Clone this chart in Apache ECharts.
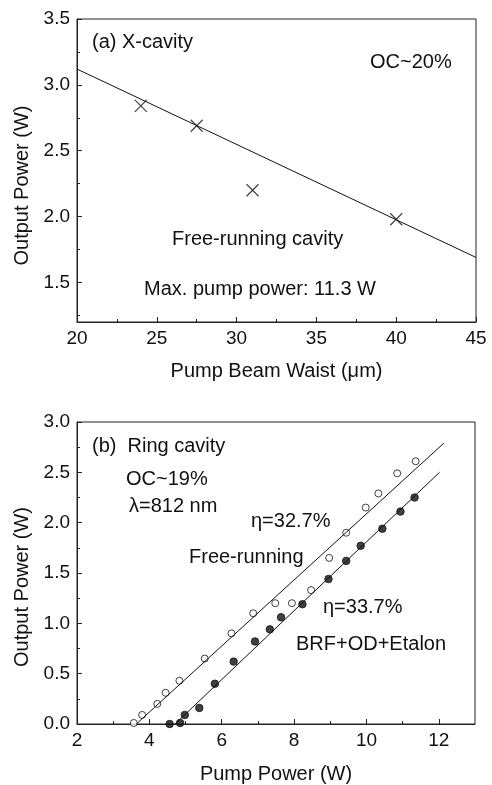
<!DOCTYPE html>
<html lang="en">
<head>
    <meta charset="UTF-8">
    <title>Output power - X-cavity and ring cavity</title>
    <script src="https://cdn.jsdelivr.net/npm/echarts@6/dist/echarts.min.js"></script>
    <style>
        html, body { margin: 0; padding: 0; background: #fff; }
        #chart { width: 492px; height: 785px; }
    </style>
</head>
<body>
<div id="chart"></div>
<script>
    // (a) X-cavity: output power vs pump beam waist
    const waist = [24, 27.5, 31, 40];
    const waistPower = [2.84, 2.69, 2.2, 1.98];
    const waistFitX = [20, 45];
    const waistFitY = [3.12, 1.69];

    // (b) ring cavity: output power vs pump power
    const pumpFree = [3.57, 3.80, 4.22, 4.45, 4.83, 5.53, 6.27, 6.87, 7.48, 7.94, 8.47, 8.97, 9.44, 9.98, 10.33, 10.85, 11.36];
    const powerFree = [0.01, 0.09, 0.20, 0.31, 0.43, 0.65, 0.90, 1.10, 1.20, 1.20, 1.33, 1.65, 1.90, 2.15, 2.29, 2.49, 2.61];
    const pumpEtalon = [4.56, 4.85, 4.98, 5.38, 5.81, 6.33, 6.92, 7.33, 7.64, 8.23, 8.95, 9.44, 9.84, 10.44, 10.94, 11.33];
    const powerEtalon = [0.0, 0.01, 0.09, 0.16, 0.40, 0.62, 0.82, 0.94, 1.06, 1.19, 1.44, 1.62, 1.77, 1.94, 2.11, 2.25];
    const fitFreeX = [3.64, 12.14];
    const fitFreeY = [0, 2.79];
    const fitEtalonX = [4.71, 12.02];
    const fitEtalonY = [0, 2.50];

    // tick labels
    const ticksWaist = [20, 25, 30, 35, 40, 45];
    const minorWaist = [22.5, 27.5, 32.5, 37.5, 42.5];
    const ticksPowerA = [1.5, 2.0, 2.5, 3.0, 3.5];
    const minorPowerA = [1.25, 1.75, 2.25, 2.75, 3.25];
    const ticksPump = [2, 4, 6, 8, 10, 12];
    const minorPump = [3, 5, 7, 9, 11];
    const ticksPowerB = [0, 0.5, 1.0, 1.5, 2.0, 2.5, 3.0];
    const minorPowerB = [0.25, 0.75, 1.25, 1.75, 2.25, 2.75];

    function pairs(xs, ys) {
        return xs.map((x, i) => [x, ys[i]]);
    }

    const font = 'Liberation Sans, Arial, Helvetica, sans-serif';
    const axisColor = '#222';

    function mainAxis(gridIndex, min, max, ticks, decimals, extra) {
        return Object.assign({
            type: 'value',
            gridIndex: gridIndex,
            min: min,
            max: max,
            axisLine: {show: true, lineStyle: {color: axisColor, width: 1}},
            axisTick: {show: true, inside: true, length: 5, customValues: ticks, lineStyle: {color: axisColor}},
            axisLabel: {
                customValues: ticks,
                color: '#111',
                fontSize: 19,
                fontFamily: font,
                margin: 7,
                formatter: v => v.toFixed(decimals)
            },
            splitLine: {show: false}
        }, extra || {});
    }

    function minorAxis(gridIndex, min, max, ticks, position) {
        return {
            type: 'value',
            gridIndex: gridIndex,
            min: min,
            max: max,
            position: position,
            axisLine: {show: false},
            axisTick: {show: true, inside: true, length: 3, customValues: ticks, lineStyle: {color: axisColor}},
            axisLabel: {show: false},
            splitLine: {show: false}
        };
    }

    function axisName(text, gap, padding) {
        return {
            name: text,
            nameLocation: 'middle',
            nameGap: gap,
            nameTextStyle: {color: '#111', fontSize: 20, fontFamily: font, padding: padding || 0}
        };
    }

    function note(x, y, text) {
        return {
            type: 'text',
            left: x,
            top: y - 11,
            style: {text: text, fill: '#111', font: '20px ' + font}
        };
    }

    const chart = echarts.init(document.getElementById('chart'));
    chart.setOption({
        animation: false,
        backgroundColor: '#fff',
        grid: [
            {left: 77, top: 19, width: 399, height: 303, show: true, borderColor: axisColor, borderWidth: 1},
            {left: 77, top: 422, width: 398, height: 304, show: true, borderColor: axisColor, borderWidth: 1}
        ],
        xAxis: [
            mainAxis(0, 20, 45, ticksWaist, 0, axisName('Pump Beam Waist (\u03bcm)', 39)),
            minorAxis(0, 20, 45, minorWaist, 'bottom'),
            mainAxis(1, 2, 13, ticksPump, 0, axisName('Pump Power (W)', 40)),
            minorAxis(1, 2, 13, minorPump, 'bottom')
        ],
        yAxis: [
            mainAxis(0, 1.2, 3.5, ticksPowerA, 1, axisName('Output Power (W)', 40, [0, 30, 0, 0])),
            minorAxis(0, 1.2, 3.5, minorPowerA, 'left'),
            mainAxis(1, 0, 3, ticksPowerB, 1, axisName('Output Power (W)', 40, [0, 28, 0, 0])),
            minorAxis(1, 0, 3, minorPowerB, 'left')
        ],
        series: [
            {
                type: 'line',
                xAxisIndex: 0, yAxisIndex: 0,
                data: pairs(waistFitX, waistFitY),
                showSymbol: false,
                lineStyle: {color: '#111', width: 1}
            },
            {
                type: 'scatter',
                xAxisIndex: 0, yAxisIndex: 0,
                data: pairs(waist, waistPower),
                symbol: 'path://M0,0L10,10M10,0L0,10',
                symbolSize: 12,
                itemStyle: {color: 'none', borderColor: '#111', borderWidth: 1.2}
            },
            {
                type: 'line',
                xAxisIndex: 2, yAxisIndex: 2,
                data: pairs(fitFreeX, fitFreeY),
                showSymbol: false,
                lineStyle: {color: '#111', width: 1}
            },
            {
                type: 'line',
                xAxisIndex: 2, yAxisIndex: 2,
                data: pairs(fitEtalonX, fitEtalonY),
                showSymbol: false,
                lineStyle: {color: '#111', width: 1}
            },
            {
                type: 'scatter',
                xAxisIndex: 2, yAxisIndex: 2,
                data: pairs(pumpFree, powerFree),
                symbol: 'circle',
                symbolSize: 7,
                itemStyle: {color: '#fff', borderColor: '#111', borderWidth: 1}
            },
            {
                type: 'scatter',
                xAxisIndex: 2, yAxisIndex: 2,
                data: pairs(pumpEtalon, powerEtalon),
                symbol: 'circle',
                symbolSize: 7.5,
                itemStyle: {color: '#111', borderColor: '#111', borderWidth: 1}
            }
        ],
        graphic: [
            note(92, 43, '(a) X-cavity'),
            note(370, 63, 'OC~20%'),
            note(172, 240, 'Free-running cavity'),
            note(144, 290, 'Max. pump power: 11.3 W'),
            note(92, 447, '(b)  Ring cavity'),
            note(126, 480, 'OC~19%'),
            note(129, 507, '\u03bb=812 nm'),
            note(251, 522, '\u03b7=32.7%'),
            note(189, 558, 'Free-running'),
            note(323, 608, '\u03b7=33.7%'),
            note(296, 645, 'BRF+OD+Etalon')
        ]
    });
</script>
</body>
</html>
